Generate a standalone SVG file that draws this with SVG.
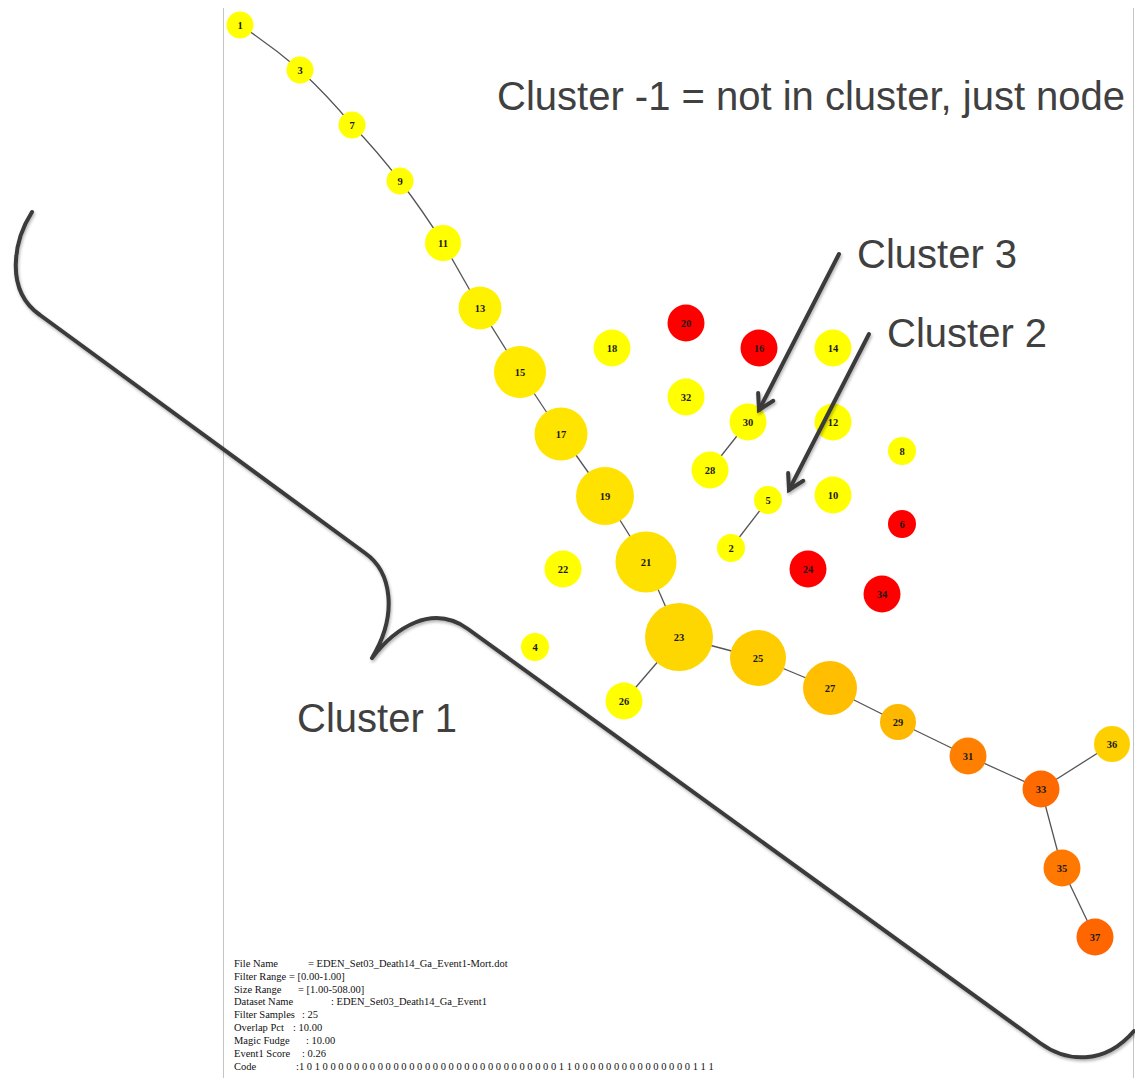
<svg xmlns="http://www.w3.org/2000/svg" width="1135" height="1078" viewBox="0 0 1135 1078">
  <style>
    .edge { stroke: #555; stroke-width: 1.3; fill: none; }
    .node text { font-family: "Liberation Serif", "Times New Roman", serif; font-size: 10.5px; font-weight: bold; fill: #1a1a1a; text-anchor: middle; dominant-baseline: central; }
    .note { font-family: "Liberation Sans", Arial, sans-serif; font-size: 40px; fill: #404040; }
    .meta { font-family: "Liberation Serif", "Times New Roman", serif; font-size: 10.5px; fill: #111; }
    .border { stroke: #c4c4c4; stroke-width: 1; }
    .callout { stroke: #3a3a3a; stroke-width: 4; fill: none; stroke-linecap: round; stroke-linejoin: round; }
  </style>
  <defs>
    <filter id="shadow" x="-10%" y="-10%" width="120%" height="120%">
      <feDropShadow dx="1" dy="2" stdDeviation="1.5" flood-color="#000" flood-opacity="0.3"/>
    </filter>
    <marker id="chevron" viewBox="-18 -11 21 22" refX="0" refY="0" markerWidth="21" markerHeight="22" markerUnits="userSpaceOnUse" orient="auto">
      <path d="M-14.7,-8.5 L0,0 L-14.7,8.5" fill="none" stroke="#3a3a3a" stroke-width="4" stroke-linecap="round" stroke-linejoin="miter"/>
    </marker>
  </defs>

  <rect width="1135" height="1078" fill="#fff"/>

  <!-- frame edges -->
  <line class="border" x1="223.5" y1="8" x2="223.5" y2="1078"/>
  <line class="border" x1="1133.5" y1="8" x2="1133.5" y2="1078"/>

  <!-- connectors -->
  <g id="edges">
    <path class="edge" d="M240,25 Q272,46 300,70"/>
    <path class="edge" d="M300,70 Q328,96 352,125"/>
    <path class="edge" d="M352,125 Q378,152 400,181"/>
    <path class="edge" d="M400,181 Q423,211 443,243"/>
    <path class="edge" d="M443,243 L480,308"/>
    <path class="edge" d="M480,308 L520,372"/>
    <path class="edge" d="M520,372 L561,434"/>
    <path class="edge" d="M561,434 L605,496"/>
    <path class="edge" d="M605,496 L646,562"/>
    <path class="edge" d="M646,562 L679,637"/>
    <path class="edge" d="M679,637 L758,658"/>
    <path class="edge" d="M679,637 L624,701"/>
    <path class="edge" d="M758,658 L830,688"/>
    <path class="edge" d="M830,688 L898,722"/>
    <path class="edge" d="M898,722 L968,756"/>
    <path class="edge" d="M968,756 L1041,789"/>
    <path class="edge" d="M1041,789 L1112,744"/>
    <path class="edge" d="M1041,789 L1062,868"/>
    <path class="edge" d="M1062,868 L1095,937"/>
    <path class="edge" d="M748,422 L710,470"/>
    <path class="edge" d="M768,500 L731,548"/>
  </g>

  <!-- nodes -->
  <g id="n1" class="node"><circle cx="240" cy="25" r="13.5" fill="#ffff00"/><text x="240" y="25">1</text></g>
  <g id="n3" class="node"><circle cx="300" cy="70" r="13.5" fill="#ffff00"/><text x="300" y="70">3</text></g>
  <g id="n7" class="node"><circle cx="352" cy="125" r="13.5" fill="#ffff00"/><text x="352" y="125">7</text></g>
  <g id="n9" class="node"><circle cx="400" cy="181" r="13.5" fill="#ffff00"/><text x="400" y="181">9</text></g>
  <g id="n11" class="node"><circle cx="443" cy="243" r="18" fill="#ffff00"/><text x="443" y="243">11</text></g>
  <g id="n13" class="node"><circle cx="480" cy="308" r="21.5" fill="#fff200"/><text x="480" y="308">13</text></g>
  <g id="n15" class="node"><circle cx="520" cy="372" r="26" fill="#ffea00"/><text x="520" y="372">15</text></g>
  <g id="n17" class="node"><circle cx="561" cy="434" r="26.5" fill="#ffe400"/><text x="561" y="434">17</text></g>
  <g id="n19" class="node"><circle cx="605" cy="496" r="29" fill="#ffe200"/><text x="605" y="496">19</text></g>
  <g id="n21" class="node"><circle cx="646" cy="562" r="30.5" fill="#ffe100"/><text x="646" y="562">21</text></g>
  <g id="n23" class="node"><circle cx="679" cy="637" r="34" fill="#ffd700"/><text x="679" y="637">23</text></g>
  <g id="n25" class="node"><circle cx="758" cy="658" r="28" fill="#ffcc00"/><text x="758" y="658">25</text></g>
  <g id="n27" class="node"><circle cx="830" cy="688" r="27" fill="#ffbf00"/><text x="830" y="688">27</text></g>
  <g id="n29" class="node"><circle cx="898" cy="722" r="18" fill="#ffb800"/><text x="898" y="722">29</text></g>
  <g id="n31" class="node"><circle cx="968" cy="756" r="18.5" fill="#ff8000"/><text x="968" y="756">31</text></g>
  <g id="n33" class="node"><circle cx="1041" cy="789" r="18.5" fill="#ff6a00"/><text x="1041" y="789">33</text></g>
  <g id="n36" class="node"><circle cx="1112" cy="744" r="18" fill="#ffd000"/><text x="1112" y="744">36</text></g>
  <g id="n35" class="node"><circle cx="1062" cy="868" r="18.5" fill="#ff7800"/><text x="1062" y="868">35</text></g>
  <g id="n37" class="node"><circle cx="1095" cy="937" r="18.5" fill="#ff6600"/><text x="1095" y="937">37</text></g>
  <g id="n26" class="node"><circle cx="624" cy="701" r="18.5" fill="#ffff00"/><text x="624" y="701">26</text></g>
  <g id="n4" class="node"><circle cx="535" cy="647" r="14" fill="#ffff00"/><text x="535" y="647">4</text></g>
  <g id="n22" class="node"><circle cx="563" cy="569" r="18.5" fill="#ffff00"/><text x="563" y="569">22</text></g>
  <g id="n18" class="node"><circle cx="612" cy="348" r="18.5" fill="#ffff00"/><text x="612" y="348">18</text></g>
  <g id="n20" class="node"><circle cx="686" cy="323" r="18.5" fill="#ff0000"/><text x="686" y="323">20</text></g>
  <g id="n16" class="node"><circle cx="759" cy="348" r="18.5" fill="#ff0000"/><text x="759" y="348">16</text></g>
  <g id="n14" class="node"><circle cx="833" cy="348" r="18.5" fill="#ffff00"/><text x="833" y="348">14</text></g>
  <g id="n32" class="node"><circle cx="686" cy="397" r="18.5" fill="#ffff00"/><text x="686" y="397">32</text></g>
  <g id="n30" class="node"><circle cx="748" cy="422" r="18.5" fill="#ffff00"/><text x="748" y="422">30</text></g>
  <g id="n12" class="node"><circle cx="833" cy="422" r="18.5" fill="#ffff00"/><text x="833" y="422">12</text></g>
  <g id="n28" class="node"><circle cx="710" cy="470" r="18.5" fill="#ffff00"/><text x="710" y="470">28</text></g>
  <g id="n8" class="node"><circle cx="902" cy="451" r="14" fill="#ffff00"/><text x="902" y="451">8</text></g>
  <g id="n5" class="node"><circle cx="768" cy="500" r="14" fill="#ffff00"/><text x="768" y="500">5</text></g>
  <g id="n10" class="node"><circle cx="833" cy="495" r="18.5" fill="#ffff00"/><text x="833" y="495">10</text></g>
  <g id="n6" class="node"><circle cx="902" cy="524" r="14" fill="#ff0000"/><text x="902" y="524">6</text></g>
  <g id="n2" class="node"><circle cx="731" cy="548" r="14" fill="#ffff00"/><text x="731" y="548">2</text></g>
  <g id="n24" class="node"><circle cx="808" cy="569" r="18.5" fill="#ff0000"/><text x="808" y="569">24</text></g>
  <g id="n34" class="node"><circle cx="882" cy="594" r="18.5" fill="#ff0000"/><text x="882" y="594">34</text></g>

  <!-- annotations -->
  <g id="brace" filter="url(#shadow)">
    <path class="callout" d="M32,212 C14,240 4,290 40,315 L365,553 C392,572 398,615 372,658 C395,628 432,603 468,629 L1040,1043 C1066,1062 1104,1066 1134,1031"/>
  </g>
  <g id="arrows" filter="url(#shadow)">
    <line class="callout" x1="839" y1="254" x2="759" y2="410" stroke-linecap="butt" marker-end="url(#chevron)"/>
    <line class="callout" x1="869" y1="334" x2="789" y2="490" stroke-linecap="butt" marker-end="url(#chevron)"/>
  </g>
  <g id="labels">
    <text class="note" x="497" y="110">Cluster -1 = not in cluster, just node</text>
    <text class="note" x="857" y="268">Cluster 3</text>
    <text class="note" x="887" y="347">Cluster 2</text>
    <text class="note" x="297" y="732">Cluster 1</text>
  </g>

  <!-- run parameters -->
  <g id="info" class="meta">
    <text x="234" y="967">File Name<tspan x="308">= EDEN_Set03_Death14_Ga_Event1-Mort.dot</tspan></text>
    <text x="234" y="980">Filter Range<tspan x="289">= [0.00-1.00]</tspan></text>
    <text x="234" y="993">Size Range<tspan x="298">= [1.00-508.00]</tspan></text>
    <text x="234" y="1005">Dataset Name<tspan x="331">: EDEN_Set03_Death14_Ga_Event1</tspan></text>
    <text x="234" y="1018">Filter Samples<tspan x="302">: 25</tspan></text>
    <text x="234" y="1031">Overlap Pct<tspan x="293">: 10.00</tspan></text>
    <text x="234" y="1044">Magic Fudge<tspan x="306">: 10.00</tspan></text>
    <text x="234" y="1057">Event1 Score<tspan x="302">: 0.26</tspan></text>
    <text x="234" y="1070">Code<tspan x="296">:1 0 1 0 0 0 0 0 0 0 0 0 0 0 0 0 0 0 0 0 0 0 0 0 0 0 0 0 0 0 0 0 0 1 1 0 0 0 0 0 0 0 0 0 0 0 0 0 0 0 1 1 1</tspan></text>
  </g>
</svg>
